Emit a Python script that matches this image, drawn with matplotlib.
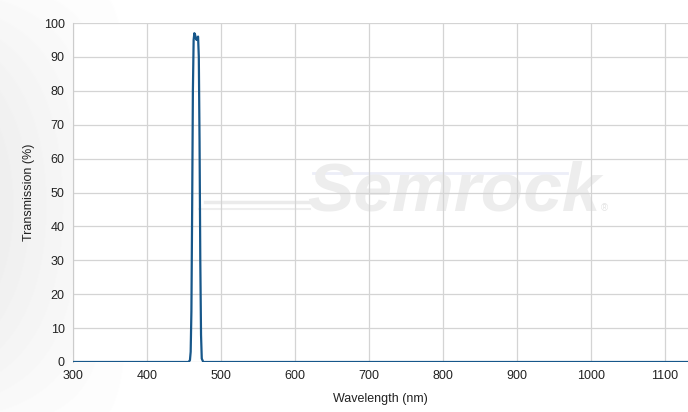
import numpy as np
import matplotlib
matplotlib.use("Agg")
from matplotlib import pyplot as plt

# spectrum (wavelength in nm, transmission in %)
wavelength = [300, 456, 458, 459, 460, 461, 462, 463, 464, 465, 466, 467,
              468, 469, 470, 471, 472, 473, 474, 476, 1131]
transmission = [0, 0, 0.5, 3, 15, 45, 80, 95, 97, 96.5, 95.5, 95,
                95.5, 96, 90, 65, 30, 8, 1, 0, 0]

x_ticks = [300, 400, 500, 600, 700, 800, 900, 1000, 1100]
y_ticks = [0, 10, 20, 30, 40, 50, 60, 70, 80, 90, 100]

plt.rcParams['font.family'] = ['Liberation Sans', 'DejaVu Sans']

fig = plt.figure(figsize=(6.88, 4.12), dpi=100)

# light grey fade on the left side of the figure
bg = fig.add_axes([0, 0, 1, 1], zorder=-10)
gx = np.clip(np.linspace(0, 1, 688) / 0.2, 0, 1)
gy = np.linspace(-1, 1, 412)
shade = 1 - 0.065 * (1 - gx[None, :]) * (1 - 0.7 * gy[:, None] ** 2)
bg.imshow(shade, cmap='gray', vmin=0, vmax=1, aspect='auto', extent=[0, 1, 0, 1])
bg.axis('off')

ax = fig.add_axes([73 / 688, 1 - 362 / 412, 1 - 73 / 688, (362 - 23) / 412])
ax.set_facecolor('white')

# watermark
ax.text(815, 50, 'Semrock', fontsize=50, fontweight='bold', style='italic',
        color='#ededed', ha='center', va='center', zorder=0.5)
ax.text(1013, 45.5, '®', fontsize=7, color='#e4e4e4', ha='left', va='center', zorder=0.5)
ax.plot([624, 967], [55.8, 55.8], color='#eceef8', lw=2.0, zorder=0.4)
ax.plot([478, 620], [47.2, 47.2], color='#ebebeb', lw=2.5, zorder=0.4)
ax.plot([470, 620], [45.0, 45.0], color='#eeeeee', lw=1.5, zorder=0.4)

ax.plot(wavelength, transmission, color='#17578a', lw=1.6, zorder=3)

ax.set_xlim(300, 1131)
ax.set_ylim(0, 100)
ax.set_xticks(x_ticks)
ax.set_yticks(y_ticks)
ax.grid(True, color='#d4d4d4', lw=0.9)
ax.set_axisbelow(True)
ax.tick_params(length=0, labelsize=9, colors='#222222', pad=6)
for s in ['top', 'right', 'bottom']:
    ax.spines[s].set_visible(False)
ax.spines['left'].set_color('#cccccc')

ax.set_xlabel('Wavelength (nm)', fontsize=9, color='#222222', labelpad=8)
ax.set_ylabel('Transmission (%)', fontsize=9, color='#222222', labelpad=6)

fig.savefig('out.png', dpi=100)
